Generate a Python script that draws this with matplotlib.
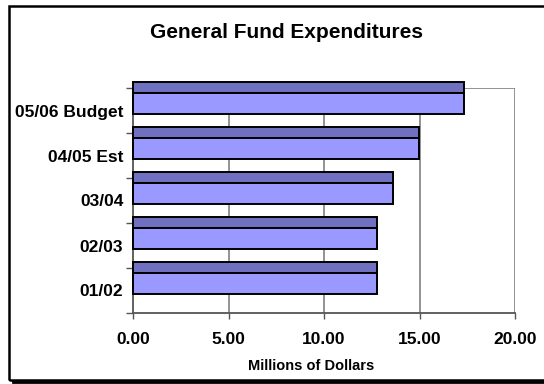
import matplotlib
matplotlib.use("Agg")
import matplotlib.pyplot as plt
from matplotlib.patches import Rectangle
from matplotlib.lines import Line2D

plt.rcParams['font.family'] = ['Liberation Sans', 'DejaVu Sans']
plt.rcParams['font.weight'] = 'bold'

# Expenditures by fiscal year (millions of dollars), bottom to top
categories = ["01/02", "02/03", "03/04", "04/05 Est", "05/06 Budget"]
expenditures = [12.80, 12.77, 13.59, 14.95, 17.33]
x_ticks = [0, 5, 10, 15, 20]
x_tick_labels = ["0.00", "5.00", "10.00", "15.00", "20.00"]

W, H, DPI = 544, 384, 100
fig = plt.figure(figsize=(W / DPI, H / DPI), dpi=DPI)
fig.patch.set_facecolor("white")

# outer chart frame (runs past the right edge) with a drop shadow along the bottom
fig.patches.append(Rectangle((8.5 / W, 1 - 379.5 / H), 545 / W, 373.5 / H, transform=fig.transFigure,
                             fill=False, edgecolor="black", linewidth=1.8, zorder=10))
fig.lines.append(Line2D([13 / W, 1.0], [1 - 381.8 / H, 1 - 381.8 / H], transform=fig.transFigure,
                        color="black", linewidth=2.0, zorder=10))

ax = fig.add_axes([133 / W, 1 - 313 / H, (515 - 133) / W, (313 - 88) / H])
ax.set_xlim(0, 20)
ax.set_ylim(0, len(categories))
for s in ax.spines.values():
    s.set_visible(False)

grid_col = "#808080"
# back wall: gridlines, right and top edges
for xv in x_ticks[1:]:
    ax.plot([xv, xv], [0, len(categories)], color=grid_col, lw=1.2, zorder=1)
ax.plot([0, 20], [len(categories), len(categories)], color=grid_col, lw=1.2, zorder=1)
# axis lines
ax.plot([0, 20], [0, 0], color="#555555", lw=1.3, zorder=2, clip_on=False)
ax.plot([0, 0], [0, len(categories)], color="#555555", lw=1.3, zorder=2, clip_on=False)

# bars drawn as a top face strip plus a front face
top_hi, top_lo, body_lo = 0.127, -0.118, -0.584
for i, v in enumerate(expenditures):
    band_top = i + 1
    ax.barh(band_top + (top_hi + top_lo) / 2, v, height=top_hi - top_lo, left=0,
            color="#7070c0", edgecolor="black", linewidth=1.4, zorder=3, clip_on=False)
    ax.barh(band_top + (top_lo + body_lo) / 2, v, height=top_lo - body_lo, left=0,
            color="#9999ff", edgecolor="black", linewidth=1.4, zorder=3, clip_on=False)

ax.set_xticks(x_ticks)
ax.set_xticklabels(x_tick_labels, fontsize=12.5, fontweight="bold")
ax.tick_params(axis="x", direction="out", length=4, width=1, color="#555555", pad=10)

ax.set_yticks(range(len(categories) + 1), minor=True)
ax.set_yticks([i + 0.5 for i in range(len(categories))])
ax.set_yticklabels(categories, fontsize=12.5, fontweight="bold")
ax.tick_params(axis="y", which="major", length=0, pad=7)
ax.tick_params(axis="y", which="minor", direction="out", length=5, width=1, color="#555555")

fig.text(286 / W, 1 - 32 / H, "General Fund Expenditures", ha="center", va="center",
         fontsize=15, fontweight="bold")
fig.text(311 / W, 1 - 366 / H, "Millions of Dollars", ha="center", va="center",
         fontsize=10.5, fontweight="bold")

fig.savefig("out.png", dpi=DPI)
